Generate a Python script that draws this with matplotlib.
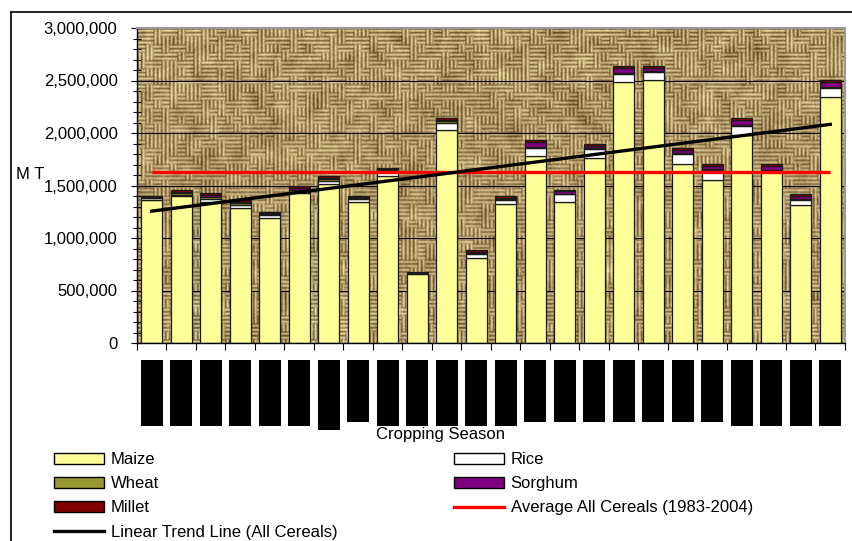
import numpy as np
import matplotlib
matplotlib.use("Agg")
import matplotlib.pyplot as plt
from matplotlib.patches import Patch, Rectangle
from matplotlib.lines import Line2D
import matplotlib.transforms as mtransforms
from matplotlib.ticker import MultipleLocator, FuncFormatter

plt.rcParams['font.family'] = ['Liberation Sans', 'DejaVu Sans']

# production per cropping season, thousand tonnes
maize   = [1362, 1400, 1340, 1283, 1187, 1425, 1511, 1340, 1593, 654, 2029, 807,
           1321, 1781, 1340, 1759, 2483, 2505, 1702, 1552, 1981, 1630, 1310, 2346]
rice    = [15, 12, 30, 32, 32, 16, 32, 32, 38, 12, 69, 38,
           41, 73, 76, 86, 79, 79, 98, 96, 85, 10, 52, 86]
wheat   = [8, 15, 20, 15, 10, 20, 18, 8, 12, 3, 18, 15,
           12, 10, 5, 8, 10, 7, 12, 9, 10, 5, 8, 10]
sorghum = [6, 10, 15, 12, 8, 15, 12, 8, 12, 2, 12, 10,
           10, 48, 25, 25, 44, 32, 22, 25, 48, 45, 32, 41]
millet  = [12, 20, 20, 20, 13, 22, 20, 12, 15, 2, 18, 16,
           16, 21, 11, 17, 22, 15, 26, 20, 22, 12, 17, 22]
avg_all_cereals = 1626  # 1983-2004 average, thousand tonnes

# season tick labels are printed as solid black blocks of varying length (px)
label_block_len = [66, 66, 66, 66, 66, 66, 70, 62, 66, 66, 66, 66,
                   66, 62, 62, 62, 62, 62, 62, 62, 66, 66, 66, 66]

series = [
    ('Maize', maize, '#ffff99'),
    ('Rice', rice, '#ffffff'),
    ('Wheat', wheat, '#999933'),
    ('Sorghum', sorghum, '#800080'),
    ('Millet', millet, '#800000'),
]

W, H = 853, 541
fig = plt.figure(figsize=(W / 100, H / 100), dpi=100)
ax = fig.add_axes([137 / W, 1 - 343 / H, 708 / W, 315 / H])

n = len(maize)
x = np.arange(n)
ax.set_xlim(-0.5, n - 0.5)
ax.set_ylim(0, 3_000_000)


def smooth(a, size):
    k = np.ones(size) / size
    a = np.apply_along_axis(lambda r: np.convolve(r, k, mode='same'), 1, a)
    return np.apply_along_axis(lambda c: np.convolve(c, k, mode='same'), 0, a)


# burlap style background
rng = np.random.default_rng(11)
th, tw, cell = 316, 708, 8
ny, nx = th // cell + 1, tw // cell + 1
orient = rng.random((ny, nx)) < 0.5
yy, xx = np.mgrid[0:cell, 0:cell]
strand = np.choose(yy % 4, [0.05, 0.9, 1.0, 0.45])
tiles = np.where(orient[:, :, None, None], strand, strand.T)
tex = tiles.transpose(0, 2, 1, 3).reshape(ny * cell, nx * cell)[:th, :tw]
tex = smooth(tex + 0.35 * (rng.random((th, tw)) - 0.5), 2)
blotch = smooth(rng.random((th, tw)) - 0.5, 13)
blotch = blotch / np.abs(blotch).max()
tex = np.clip(tex * 0.85 + 0.3 * blotch, 0, 1)
dark = np.array([100, 72, 32]) / 255
light = np.array([240, 222, 165]) / 255
img = dark + (light - dark) * tex[:, :, None]
ax.imshow(img, extent=(-0.5, n - 0.5, 0, 3_000_000), aspect='auto',
          zorder=0, interpolation='bilinear')

ax.set_axisbelow(True)
ax.yaxis.grid(True, color='black', linewidth=0.8)

bottom = np.zeros(n)
for name, vals, col in series:
    v = np.array(vals) * 1000.0
    ax.bar(x, v, width=0.72, bottom=bottom, color=col, edgecolor='#1a1a1a',
           linewidth=0.9, zorder=1)
    bottom += v

totals = bottom
avg = avg_all_cereals * 1000.0
ax.plot([x[0], x[-1]], [avg, avg], color='#ff0000', linewidth=2.4, zorder=3,
        solid_capstyle='butt')
slope, icpt = np.polyfit(x, totals, 1)
ax.plot([x[0], x[-1]], [icpt, icpt + slope * x[-1]], color='black',
        linewidth=2.4, zorder=4)

# axes styling
ax.yaxis.set_major_locator(MultipleLocator(500_000))
ax.yaxis.set_minor_locator(MultipleLocator(100_000))
ax.yaxis.set_major_formatter(FuncFormatter(lambda v, p: f'{int(v):,}'))
ax.tick_params(axis='y', which='major', direction='inout', length=8, width=0.8,
               labelsize=12, pad=10)
ax.tick_params(axis='y', which='minor', direction='inout', length=6, width=0.8)
ax.set_xticks(np.arange(n + 1) - 0.5)
ax.set_xticklabels([])
ax.tick_params(axis='x', direction='out', length=5, width=0.8)
for s in ['top', 'right']:
    ax.spines[s].set_color('#999999')
    ax.spines[s].set_linewidth(1.5)
ax.spines['left'].set_linewidth(1.0)
ax.spines['bottom'].set_linewidth(1.0)

# season labels (blacked out)
trans = mtransforms.blended_transform_factory(ax.transData, ax.transAxes)
for i, ln in enumerate(label_block_len):
    top = -17 / 315
    ax.add_patch(Rectangle((i - 0.37, top - ln / 315), 0.74, ln / 315,
                           transform=trans, facecolor='black',
                           edgecolor='none', clip_on=False))

fig.text(441 / W, 1 - 434 / H, 'Cropping Season', ha='center', va='center',
         fontsize=12)
fig.text(16 / W, 1 - 174 / H, 'M T', ha='left', va='center', fontsize=12)

# outer chart frame
fig.add_artist(Line2D([11 / W, 1.0], [1 - 12 / H, 1 - 12 / H],
                      transform=fig.transFigure, color='black', linewidth=1.2))
fig.add_artist(Line2D([11 / W, 11 / W], [1 - 12 / H, 0.0],
                      transform=fig.transFigure, color='black', linewidth=1.2))

handles = {name: Patch(facecolor=col, edgecolor='black', linewidth=1.0)
           for name, vals, col in series}
avg_h = Line2D([], [], color='#ff0000', linewidth=2.4)
trend_h = Line2D([], [], color='black', linewidth=2.4)
order = [
    (handles['Maize'], 'Maize'),
    (handles['Wheat'], 'Wheat'),
    (handles['Millet'], 'Millet'),
    (trend_h, 'Linear Trend Line (All Cereals)'),
    (handles['Rice'], 'Rice'),
    (handles['Sorghum'], 'Sorghum'),
    (avg_h, 'Average All Cereals (1983-2004)'),
]
fig.legend([h for h, l in order], [l for h, l in order], ncol=2,
           loc='upper left', bbox_to_anchor=(54 / W, 1 - 452 / H),
           frameon=False, fontsize=12, handlelength=3.0, handleheight=0.65,
           handletextpad=0.4, columnspacing=7.0, labelspacing=0.55,
           borderpad=0, borderaxespad=0)

fig.savefig('out.png', dpi=100)
